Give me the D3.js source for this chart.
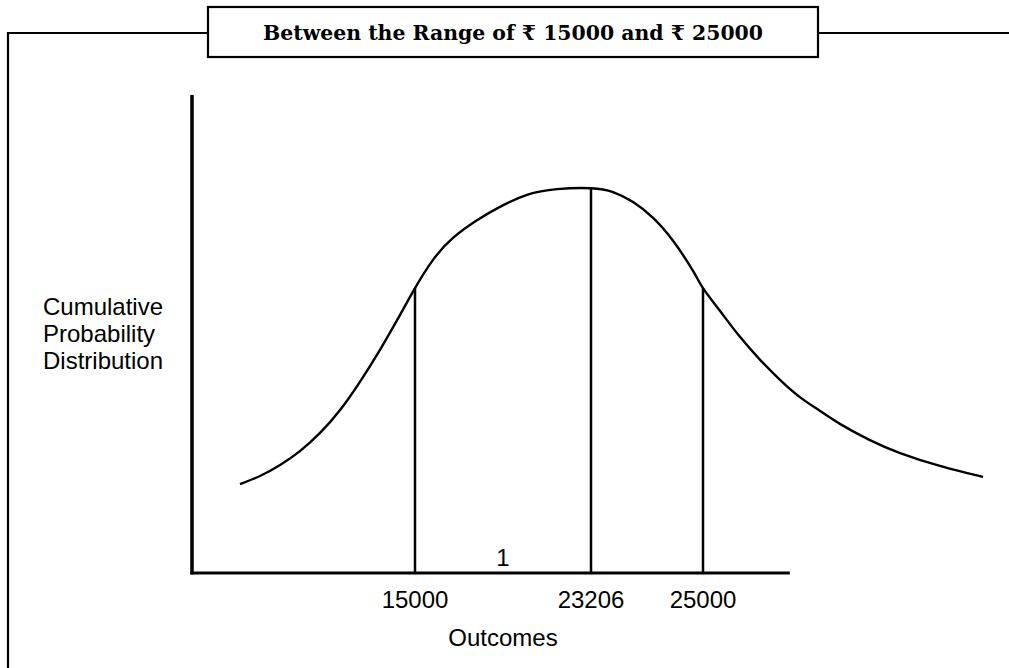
<!DOCTYPE html>
<html>
<head>
<meta charset="utf-8">
<script src="https://cdn.jsdelivr.net/npm/d3@7"></script>
<style>
  body { margin: 0; background: #fff; }
  svg text { fill: #000; }
</style>
</head>
<body>
<svg id="chart" width="1009" height="668"></svg>
<script>
// schematic outcome positions (the chart is not drawn to a linear scale)
const outcomeKnots = [5000, 15000, 23206, 25000, 35000];
const markers = [15000, 23206, 25000];
const tickLabels = ['15000', '23206', '25000'];
const axisEndOutcome = 28100;

// curve: outcome, relative height (0-100)
const curveOutcomes = [7150, 8050, 8950, 9840, 10740, 11640, 12530, 13430, 14330, 15000,
  15840, 16770, 17890, 18960, 20220, 21620, 23206, 23560, 23880, 24200, 24520,
  24840, 25000, 25610, 26320, 27040, 27750, 28460, 29180, 29890, 30960, 32040, 33460, 35000];
const curveHeights = [18.6, 20.3, 22.6, 25.5, 29.3, 34.1, 40.0, 46.7, 54.0, 59.6,
  65.5, 70.1, 73.8, 76.6, 79.1, 80.3, 80.5, 79.7, 77.6, 74.3, 69.5,
  63.2, 59.6, 54.8, 49.4, 44.6, 40.4, 36.8, 33.9, 31.2, 27.8, 25.1, 22.4, 20.1];
const markerHeights = [59.6, 80.5, 59.6];

const titleText = 'Between the Range of \u20B9 15000 and \u20B9 25000';
const yLabelLines = ['Cumulative', 'Probability', 'Distribution'];
const xLabel = 'Outcomes';
const innerLabel = '1';

const svg = d3.select('#chart');

// piecewise scale so the marked outcomes sit where the picture puts them
const x = d3.scaleLinear().domain(outcomeKnots).range([192, 415, 591, 703, 983]);
const y = d3.scaleLinear().domain([0, 100]).range([573, 95]);

// outer frame with title box
const frame = svg.append('g').attr('stroke', '#000').attr('stroke-width', 2.2).attr('fill', 'none');
frame.append('path').attr('d', 'M8,668 V33 H208');
frame.append('path').attr('d', 'M818,33 H1009');
frame.append('rect').attr('x', 208).attr('y', 7).attr('width', 610).attr('height', 50);

svg.append('text')
  .attr('x', 513).attr('y', 40)
  .attr('text-anchor', 'middle')
  .attr('textLength', 500)
  .attr('lengthAdjust', 'spacingAndGlyphs')
  .style('font-family', '"DejaVu Serif", serif')
  .style('font-weight', 'bold')
  .style('font-size', '20.5px')
  .text(titleText);

// axes drawn as plain lines
svg.append('line')
  .attr('x1', x(outcomeKnots[0])).attr('x2', x(outcomeKnots[0]))
  .attr('y1', y(100)).attr('y2', y(0) + 1.5)
  .attr('stroke', '#000').attr('stroke-width', 3.5);
svg.append('line')
  .attr('x1', x(outcomeKnots[0]) - 1.5).attr('x2', x(axisEndOutcome))
  .attr('y1', y(0)).attr('y2', y(0))
  .attr('stroke', '#000').attr('stroke-width', 3);

// vertical markers from the baseline up to the curve
svg.selectAll('.marker')
  .data(markers)
  .enter()
  .append('line')
  .attr('class', 'marker')
  .attr('x1', (d) => x(d)).attr('x2', (d) => x(d))
  .attr('y1', y(0)).attr('y2', (d, i) => y(markerHeights[i]))
  .attr('stroke', '#000').attr('stroke-width', 2.5);

// the curve
const pts = curveOutcomes.map((d, i) => [d, curveHeights[i]]);
svg.append('path')
  .datum(pts)
  .attr('fill', 'none')
  .attr('stroke', '#000')
  .attr('stroke-width', 2.4)
  .attr('d', d3.line().x((d) => x(d[0])).y((d) => y(d[1])).curve(d3.curveNatural));

const sans = 'Arial, "Liberation Sans", sans-serif';

// tick labels
svg.selectAll('.tick-label')
  .data(markers)
  .enter()
  .append('text')
  .attr('class', 'tick-label')
  .attr('x', (d) => x(d)).attr('y', 608)
  .attr('text-anchor', 'middle')
  .style('font-family', sans).style('font-size', '24px')
  .text((d, i) => tickLabels[i]);

svg.append('text')
  .attr('x', 503).attr('y', 646)
  .attr('text-anchor', 'middle')
  .style('font-family', sans).style('font-size', '24px')
  .text(xLabel);

svg.append('text')
  .attr('x', (x(markers[0]) + x(markers[1])) / 2).attr('y', 566)
  .attr('text-anchor', 'middle')
  .style('font-family', sans).style('font-size', '24px')
  .text(innerLabel);

// y label, three lines
svg.selectAll('.y-label')
  .data(yLabelLines)
  .enter()
  .append('text')
  .attr('class', 'y-label')
  .attr('x', 43).attr('y', (d, i) => 315 + i * 27)
  .style('font-family', sans).style('font-size', '24px')
  .text((d) => d);
</script>
</body>
</html>
